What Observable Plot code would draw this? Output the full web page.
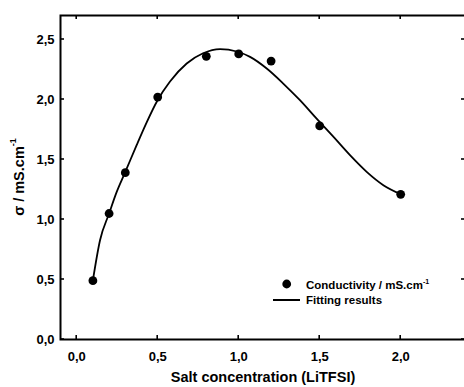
<!DOCTYPE html>
<html><head><meta charset="utf-8">
<script src="https://cdn.jsdelivr.net/npm/d3@7"></script>
<script src="https://cdn.jsdelivr.net/npm/@observablehq/plot@0.6"></script>
<style>body{margin:0;background:#fff;overflow:hidden} svg{display:block}</style>
</head><body><div id="chart"></div>
<script>
// Measured conductivity
const concentration = [0.1, 0.2, 0.3, 0.5, 0.8, 1.0, 1.2, 1.5, 2.0];
const conductivity = [0.49, 1.05, 1.39, 2.02, 2.36, 2.38, 2.32, 1.78, 1.21];
// Fitting curve
const fitX = [0.1, 0.144, 0.2, 0.247, 0.298, 0.37, 0.432, 0.4975, 0.576, 0.679, 0.78, 0.885, 0.988, 1.07, 1.173, 1.275, 1.378, 1.481, 1.584, 1.687, 1.79, 1.893, 2.0];
const fitY = [0.494, 0.8275, 1.05, 1.23, 1.39, 1.62, 1.81, 1.99, 2.15, 2.30, 2.385, 2.42, 2.40, 2.355, 2.258, 2.133, 1.994, 1.84, 1.69, 1.536, 1.397, 1.286, 1.211];
const xTicks = [0, 0.5, 1.0, 1.5, 2.0];
const yTicks = [0, 0.5, 1.0, 1.5, 2.0, 2.5];
const xLabel = "Salt concentration (LiTFSI)";
const legendDots = "Conductivity / mS.cm";
const legendLine = "Fitting results";

const points = concentration.map((c, i) => ({c, s: conductivity[i]}));
const fit = fitX.map((x, i) => ({x, y: fitY[i]}));
const fmt = d => d.toFixed(1).replace(".", ",");
const FONT = "'Liberation Sans', Arial, sans-serif";

const svg = Plot.plot({
  width: 464,
  height: 387,
  marginLeft: 60,
  marginRight: -1,
  marginTop: 15,
  marginBottom: 48,
  style: {fontFamily: FONT, fontSize: "13px", fontWeight: "bold", color: "#000", background: "#fff"},
  x: {domain: [-0.1, 2.4]},
  y: {domain: [0, 2.7]},
  marks: [
    Plot.frame({stroke: "#000", strokeWidth: 2}),
    Plot.axisX(xTicks, {anchor: "bottom", tickSize: 0, tickPadding: 12, tickFormat: fmt, label: null, fontSize: 13, fontWeight: "bold"}),
    Plot.axisY(yTicks, {anchor: "left", tickSize: 0, tickPadding: 6, tickFormat: fmt, label: null, fontSize: 13, fontWeight: "bold"}),
    Plot.line(fit, {x: "x", y: "y", curve: "monotone-x", stroke: "#000", strokeWidth: 1.8}),
    Plot.dot(points, {x: "c", y: "s", r: 4.4, fill: "#000", stroke: "none"}),
    Plot.text([xLabel], {frameAnchor: "bottom", dy: 42, fontSize: 14.5, fontWeight: "bold", text: d => d})
  ]
});
document.getElementById("chart").appendChild(svg);

const s = d3.select(svg);
const xs = svg.scale("x"), ys = svg.scale("y");
const [xl, xr] = xs.range, [yb, yt] = ys.range;
const T = 4;
// inward ticks on all four sides, positioned through Plot's scales
const tg = s.append("g").attr("stroke", "#000").attr("stroke-width", 1.6);
xTicks.forEach(v => {
  const px = xs.apply(v);
  tg.append("line").attr("x1", px).attr("x2", px).attr("y1", yb).attr("y2", yb - T);
  tg.append("line").attr("x1", px).attr("x2", px).attr("y1", yt).attr("y2", yt + T);
});
yTicks.forEach(v => {
  const py = ys.apply(v);
  tg.append("line").attr("x1", xl).attr("x2", xl + T).attr("y1", py).attr("y2", py);
  tg.append("line").attr("x1", xr).attr("x2", xr - T).attr("y1", py).attr("y2", py);
});

// Y-axis label with superscript
const yl = s.append("text")
  .attr("transform", "translate(20,177) rotate(-90)")
  .attr("text-anchor", "middle").attr("dominant-baseline", "middle")
  .attr("font-family", FONT).attr("font-size", 14.5).attr("font-weight", "bold").attr("fill", "#000");
yl.append("tspan").text("σ / mS.cm");
yl.append("tspan").attr("font-size", 9).attr("dy", -6).text("-1");

// In-plot legend
const lg = s.append("g").attr("font-family", FONT).attr("font-weight", "bold").attr("font-size", 11.5)
  .attr("fill", "#000").attr("text-anchor", "start");
lg.append("circle").attr("cx", 286.7).attr("cy", 284).attr("r", 4.4).attr("fill", "#000");
const t1 = lg.append("text").attr("x", 306).attr("y", 288.5);
t1.append("tspan").text(legendDots);
t1.append("tspan").attr("font-size", 7).attr("dy", -5).text("-1");
lg.append("line").attr("x1", 273).attr("x2", 300).attr("y1", 300).attr("y2", 300).attr("stroke", "#000").attr("stroke-width", 2);
lg.append("text").attr("x", 306).attr("y", 304).text(legendLine);
</script>
</body></html>
